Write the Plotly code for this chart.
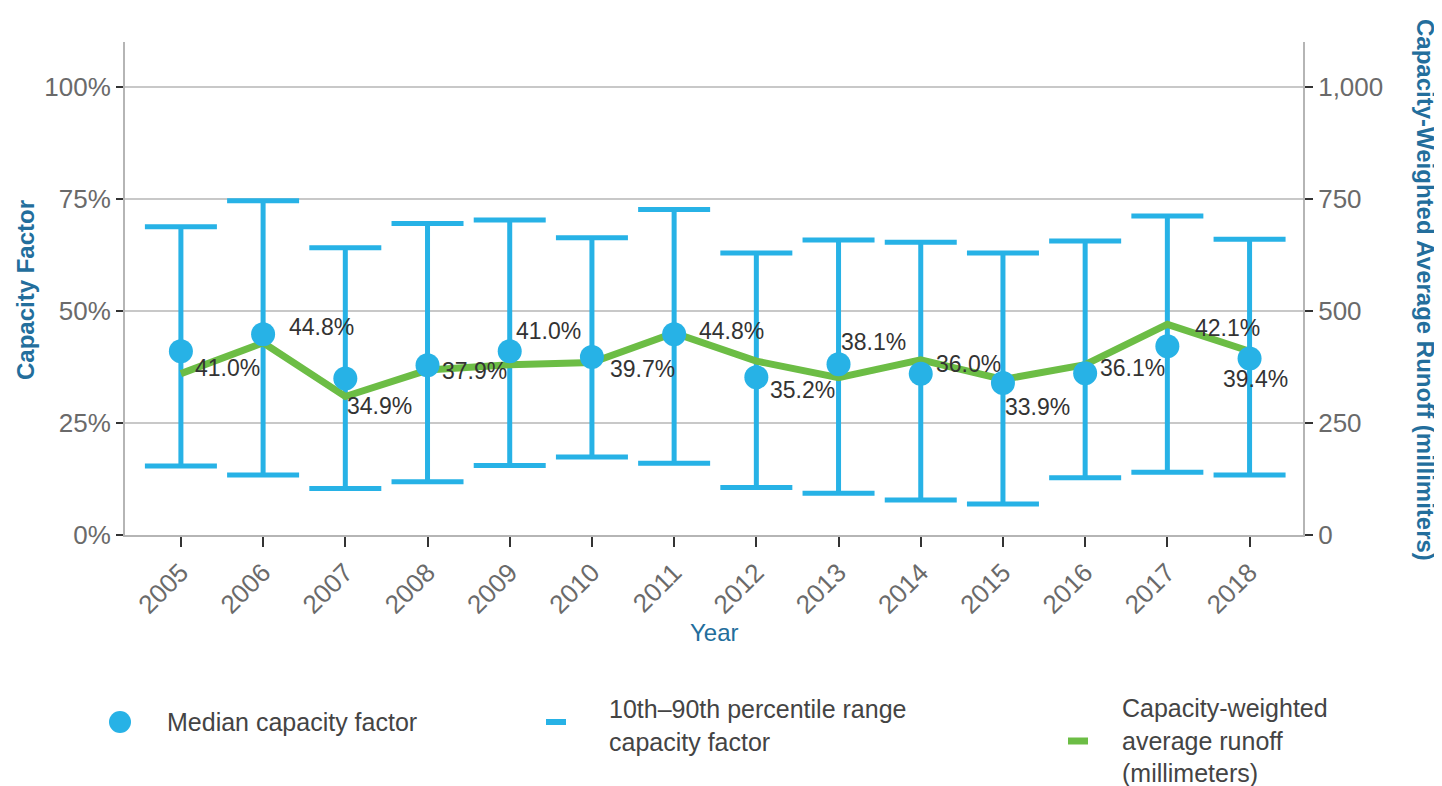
import plotly.graph_objects as go

years = [2005, 2006, 2007, 2008, 2009, 2010, 2011, 2012, 2013, 2014, 2015, 2016, 2017, 2018]
median_cf = [41.0, 44.8, 34.9, 37.9, 41.0, 39.7, 44.8, 35.2, 38.1, 36.0, 33.9, 36.1, 42.1, 39.4]
p90_cf = [68.8, 74.6, 64.1, 69.5, 70.3, 66.3, 72.6, 62.9, 65.8, 65.3, 62.9, 65.6, 71.2, 66.0]
p10_cf = [15.4, 13.4, 10.4, 11.9, 15.5, 17.4, 16.0, 10.6, 9.3, 7.8, 6.9, 12.8, 14.0, 13.4]
runoff_mm = [360, 429, 309, 368, 380, 385, 451, 388, 351, 391, 347, 380, 470, 410]

left_ticks = [0, 25, 50, 75, 100]
left_labels = ['0%', '25%', '50%', '75%', '100%']
right_ticks = [0, 250, 500, 750, 1000]

# label offsets (px) from each median dot: right, down
label_dx = [12, 24, 0, 12, 4, 16, 23, 12, 0, 13, 0, 13, 26, -29]
label_dy = [17, -7, 27, 6, -20, 12, -3, 13, -22, -10, 24, -5, -18, 21]

BLUE = '#27b2e6'
GREEN = '#6cbd45'
TITLE = '#236e9c'
TICK = '#6a6a6a'
FONT = 'Liberation Sans, Arial, sans-serif'

# page body has an 8px margin, so the figure starts at (8, 8) on screen
OFF = 8
W, H = 1442 - OFF, 786 - OFF
# plot area in screen pixels
L, R, T, B = 125, 1303, 42, 535


def px(xp, yp):
    return (xp - L) / (R - L), (B - yp) / (B - T)


fig = go.Figure()

# 10th-90th percentile range
fig.add_trace(go.Scatter(
    x=years, y=median_cf, mode='markers', yaxis='y',
    marker=dict(size=1, color='rgba(0,0,0,0)'),
    error_y=dict(type='data', symmetric=False,
                 array=[h - m for h, m in zip(p90_cf, median_cf)],
                 arrayminus=[m - l for m, l in zip(median_cf, p10_cf)],
                 color=BLUE, thickness=5, width=36),
    hoverinfo='skip'))

# runoff line on right axis
fig.add_trace(go.Scatter(
    x=years, y=runoff_mm, mode='lines', yaxis='y2',
    line=dict(color=GREEN, width=7)))

# median dots on top
fig.add_trace(go.Scatter(
    x=years, y=median_cf, mode='markers', yaxis='y3',
    marker=dict(size=24, color=BLUE)))

annotations = []
for yr, v, dx, dy in zip(years, median_cf, label_dx, label_dy):
    annotations.append(dict(x=yr, y=v, xref='x', yref='y', text='%.1f%%' % v,
                            showarrow=False, xanchor='left', yanchor='middle',
                            xshift=dx, yshift=-dy,
                            font=dict(family=FONT, size=23, color='#333333')))

# axis titles
ax, ay = px(25, 290)
annotations.append(dict(x=ax, y=ay, xref='paper', yref='paper', text='<b>Capacity Factor</b>',
                        textangle=-90, showarrow=False, xanchor='center', yanchor='middle',
                        font=dict(family=FONT, size=24, color=TITLE)))
ax, ay = px(1426, 290)
annotations.append(dict(x=ax, y=ay, xref='paper', yref='paper',
                        text='<b>Capacity-Weighted Average Runoff (millimiters)</b>',
                        textangle=90, showarrow=False, xanchor='center', yanchor='middle',
                        font=dict(family=FONT, size=24, color=TITLE)))
ax, ay = px(714, 632)
annotations.append(dict(x=ax, y=ay, xref='paper', yref='paper', text='Year',
                        showarrow=False, xanchor='center', yanchor='middle',
                        font=dict(family=FONT, size=24, color=TITLE)))

# legend
leg_text = [('Median capacity factor', 165, 722),
            ('10th\u201390th percentile range<br>capacity factor', 607, 725),
            ('Capacity-weighted<br>average runoff<br>(millimeters)', 1120, 740)]
for t, xp, yp in leg_text:
    ax, ay = px(xp, yp)
    annotations.append(dict(x=ax, y=ay, xref='paper', yref='paper', text=t, align='left',
                            showarrow=False, xanchor='left', yanchor='middle',
                            font=dict(family=FONT, size=25, color='#444444')))

shapes = []
ax, ay = px(120, 722)
shapes.append(dict(type='circle', xref='paper', yref='paper', xsizemode='pixel', ysizemode='pixel',
                   xanchor=ax, yanchor=ay, x0=-11, x1=11, y0=-11, y1=11,
                   fillcolor=BLUE, line=dict(width=0)))
ax, ay = px(556, 722)
shapes.append(dict(type='rect', xref='paper', yref='paper', xsizemode='pixel', ysizemode='pixel',
                   xanchor=ax, yanchor=ay, x0=-10, x1=10, y0=-3, y1=3,
                   fillcolor=BLUE, line=dict(width=0)))
ax, ay = px(1078, 741)
shapes.append(dict(type='rect', xref='paper', yref='paper', xsizemode='pixel', ysizemode='pixel',
                   xanchor=ax, yanchor=ay, x0=-10, x1=10, y0=-3.5, y1=3.5,
                   fillcolor=GREEN, line=dict(width=0)))

fig.update_layout(
    width=W, height=H,
    margin=dict(l=L - OFF, r=1442 - R, t=T - OFF, b=786 - B),
    paper_bgcolor='white', plot_bgcolor='white',
    showlegend=False,
    font=dict(family=FONT),
    xaxis=dict(range=[2004.32, 2018.65], tickvals=years, ticktext=[str(y) for y in years],
               tickangle=-45, tickfont=dict(size=26, color=TICK),
               showgrid=False, zeroline=False,
               showline=True, linecolor='#b5b5b5', linewidth=2,
               ticks='outside', ticklen=10, tickwidth=2, tickcolor='#333333'),
    yaxis=dict(range=[0, 110], tickvals=left_ticks, ticktext=left_labels,
               tickfont=dict(size=26, color=TICK),
               showgrid=True, gridcolor='#c8c8c8', gridwidth=2, zeroline=False,
               showline=True, linecolor='#b5b5b5', linewidth=2,
               ticks='outside', ticklen=7, tickwidth=2, tickcolor='#333333'),
    yaxis2=dict(range=[0, 1100], tickvals=right_ticks, tickformat=',',
                overlaying='y', side='right', anchor='x',
                tickfont=dict(size=26, color=TICK),
                showgrid=False, zeroline=False,
                showline=True, linecolor='#b5b5b5', linewidth=2,
                ticks='outside', ticklen=8, tickwidth=2, tickcolor='#333333'),
    yaxis3=dict(range=[0, 110], overlaying='y', visible=False),
    annotations=annotations,
    shapes=shapes,
)

fig.write_html("out.html")
